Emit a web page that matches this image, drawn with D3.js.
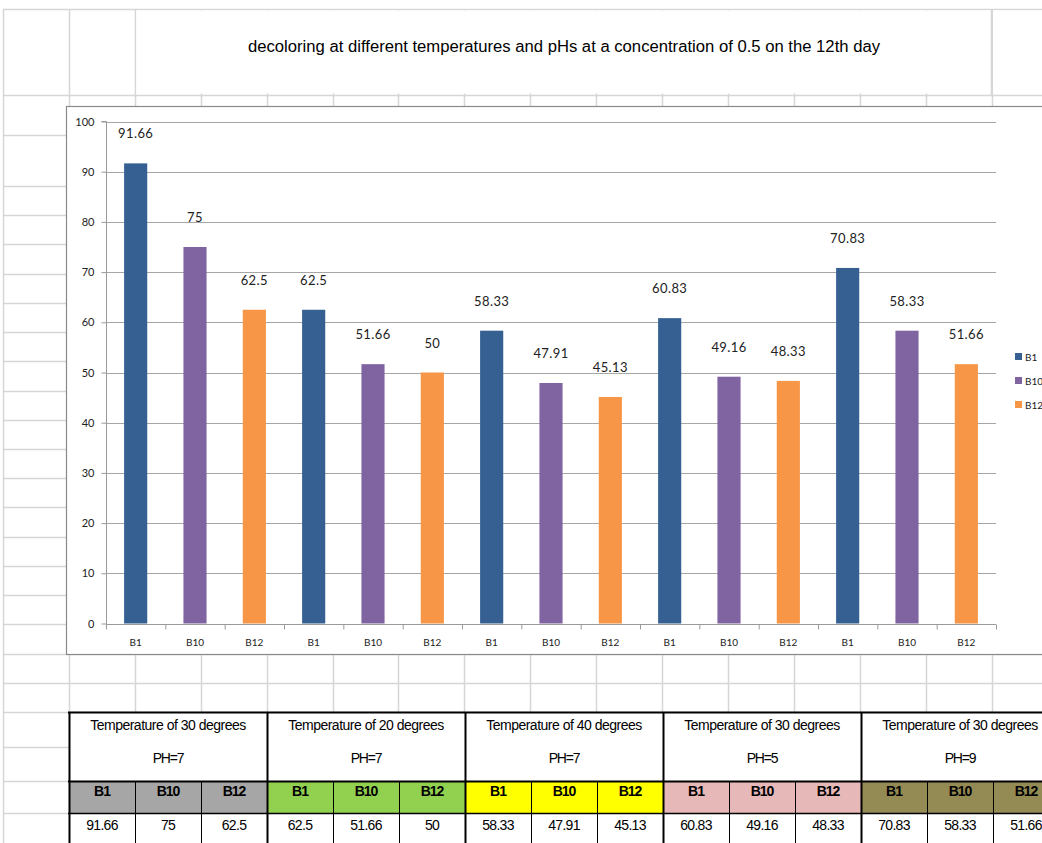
<!DOCTYPE html>
<html>
<head>
<meta charset="utf-8">
<script src="https://cdn.jsdelivr.net/npm/d3@7"></script>
<style>
  body { margin: 0; background: #fff; }
  svg { display: block; }
</style>
</head>
<body>
<svg id="chart" width="1042" height="843"></svg>
<script>
// ---------- data ----------
const title = "decoloring at different temperatures and pHs at a concentration of 0.5 on the 12th day";
const seriesNames = ["B1", "B10", "B12"];
const groupTemps = ["Temperature of 30 degrees", "Temperature of 20 degrees", "Temperature of 40 degrees", "Temperature of 30 degrees", "Temperature of 30 degrees"];
const groupPH = ["PH=7", "PH=7", "PH=7", "PH=5", "PH=9"];
const b1Values = [91.66, 62.5, 58.33, 60.83, 70.83];
const b10Values = [75, 51.66, 47.91, 49.16, 58.33];
const b12Values = [62.5, 50, 45.13, 48.33, 51.66];
const yTicks = [0, 10, 20, 30, 40, 50, 60, 70, 80, 90, 100];
const seriesColors = ["#376092", "#8064A2", "#F79646"];
const groupFills = ["#A6A6A6", "#92D050", "#FFFF00", "#E6B8B7", "#948A54"];

// flattened categories (group, series)
const seriesValues = [b1Values, b10Values, b12Values];
const cats = [];
groupTemps.forEach((g, gi) => {
  seriesNames.forEach((s, si) => {
    cats.push({ gi, si, name: s, value: seriesValues[si][gi] });
  });
});

const svg = d3.select("#chart");
const W = 1042, H = 843;
const gridColor = "#d6d6d6";

// ---------- spreadsheet grid ----------
const colW = 65.9, colX0 = 3;
const colXs = d3.range(0, 17).map(k => colX0 + colW * k);
const rowYs = [9, 95, 135].concat(d3.range(0, 19).map(k => 186 + k * (712 - 186) / 18));
const grid = svg.append("g");
grid.selectAll("line.v").data(colXs).join("line")
  .attr("x1", d => Math.round(d) + 0.5).attr("x2", d => Math.round(d) + 0.5)
  .attr("y1", 9).attr("y2", H)
  .attr("stroke", gridColor).attr("stroke-width", 1.5);
grid.selectAll("line.h").data(rowYs.concat([747, 781, 813])).join("line")
  .attr("x1", colX0).attr("x2", W)
  .attr("y1", d => Math.round(d) + 0.5).attr("y2", d => Math.round(d) + 0.5)
  .attr("stroke", gridColor).attr("stroke-width", 1.5);
// merged title cell
grid.append("rect").attr("x", 136.5).attr("y", 10.5).attr("width", 991 - 137).attr("height", 83).attr("fill", "#fff");
grid.append("rect").attr("x", 993).attr("y", 10.5).attr("width", 60).attr("height", 83).attr("fill", "#fff");
grid.append("line").attr("x1", 991.5).attr("x2", 991.5).attr("y1", 9).attr("y2", 95).attr("stroke", gridColor).attr("stroke-width", 1.5);

svg.append("text")
  .attr("x", 564).attr("y", 52)
  .attr("text-anchor", "middle")
  .attr("font-family", "'Liberation Sans', Arial, sans-serif")
  .attr("font-size", 16)
  .attr("textLength", 632).attr("lengthAdjust", "spacingAndGlyphs")
  .attr("fill", "#000")
  .text(title);

// ---------- chart box ----------
svg.append("rect")
  .attr("x", 66.5).attr("y", 106.5)
  .attr("width", 1100).attr("height", 548)
  .attr("fill", "#fff").attr("stroke", "#8a8a8a").attr("stroke-width", 1.2);

const plot = { left: 106, right: 996, top: 121.5, bottom: 623.5 };
const chartFont = "Lato, 'Open Sans', sans-serif";

const y = d3.scaleLinear().domain([0, 100]).range([plot.bottom, plot.top]);
const x = d3.scaleBand().domain(d3.range(cats.length))
  .range([plot.left, plot.right]).paddingInner(0.61).paddingOuter(0.305);
const xb = d3.scaleLinear().domain([0, cats.length]).range([plot.left, plot.right]);

// gridlines
svg.append("g").selectAll("line").data(yTicks.filter(t => t > 0)).join("line")
  .attr("x1", plot.left).attr("x2", plot.right)
  .attr("y1", d => Math.round(y(d)) + 0.5).attr("y2", d => Math.round(y(d)) + 0.5)
  .attr("stroke", "#a6a6a6").attr("stroke-width", 1);

// y axis
const yAxis = svg.append("g").attr("transform", `translate(${plot.left + 0.5},0)`)
  .call(d3.axisLeft(y).tickValues(yTicks).tickSize(5).tickPadding(7));
yAxis.select(".domain").attr("stroke", "#9a9a9a").attr("d", `M-5,${plot.top}H0V${plot.bottom + 3}`);
yAxis.selectAll(".tick line").attr("stroke", "#9a9a9a");
yAxis.selectAll(".tick text").attr("font-family", chartFont).attr("font-size", 11).attr("fill", "#222");

// bars
svg.append("g").selectAll("rect").data(cats).join("rect")
  .attr("x", (d, i) => x(i))
  .attr("width", x.bandwidth())
  .attr("y", d => y(d.value))
  .attr("height", d => y(0) - y(d.value))
  .attr("fill", d => seriesColors[d.si]);

// x axis
const xAxis = svg.append("g").attr("transform", `translate(0,${Math.round(plot.bottom) + 0.5})`)
  .call(d3.axisBottom(xb).tickValues(d3.range(cats.length + 1)).tickSize(5).tickFormat(""));
xAxis.select(".domain").attr("stroke", "#9a9a9a").attr("d", `M${plot.left},0H${plot.right}`);
xAxis.selectAll(".tick line").attr("stroke", "#9a9a9a");

svg.append("g").selectAll("text").data(cats).join("text")
  .attr("x", (d, i) => x(i) + x.bandwidth() / 2)
  .attr("y", 646)
  .attr("text-anchor", "middle")
  .attr("font-family", chartFont).attr("font-size", 10).attr("fill", "#222")
  .text(d => d.name);

// data labels
svg.append("g").selectAll("text").data(cats).join("text")
  .attr("x", (d, i) => x(i) + x.bandwidth() / 2)
  .attr("y", d => y(d.value) - 25)
  .attr("text-anchor", "middle")
  .attr("font-family", chartFont).attr("font-size", 13).attr("fill", "#222")
  .attr("letter-spacing", 0.4)
  .text(d => d.value);

// legend
const legend = svg.append("g");
seriesNames.forEach((s, i) => {
  const ly = 357 + i * 24;
  legend.append("rect").attr("x", 1015).attr("y", ly - 4).attr("width", 7).attr("height", 7).attr("fill", seriesColors[i]);
  legend.append("text").attr("x", 1025).attr("y", ly + 3.5)
    .attr("font-family", chartFont).attr("font-size", 10).attr("fill", "#222").text(s);
});

// ---------- table ----------
const tFont = "'Liberation Sans', Arial, sans-serif";
const tx0 = 69, tcw = 66;
const tTop = 712, tHead = 781, tSub = 813, tBot = 843;
const table = svg.append("g");
table.append("rect").attr("x", tx0).attr("y", tTop).attr("width", W - tx0 + 40).attr("height", H - tTop + 10).attr("fill", "#fff");
// colored header cells
cats.forEach((d, i) => {
  table.append("rect").attr("x", tx0 + i * tcw).attr("y", tHead).attr("width", tcw).attr("height", tSub - tHead)
    .attr("fill", groupFills[d.gi]);
});
// group header texts
groupTemps.forEach((g, gi) => {
  const cx = tx0 + gi * 3 * tcw + 1.5 * tcw;
  table.append("text").attr("x", cx).attr("y", 730).attr("text-anchor", "middle")
    .attr("font-family", tFont).attr("font-size", 14).attr("letter-spacing", -0.5).attr("fill", "#000").text(g);
  table.append("text").attr("x", cx).attr("y", 763).attr("text-anchor", "middle")
    .attr("font-family", tFont).attr("font-size", 14).attr("letter-spacing", -1.2).attr("fill", "#000").text(groupPH[gi]);
});
cats.forEach((d, i) => {
  const cx = tx0 + i * tcw + tcw / 2;
  table.append("text").attr("x", cx).attr("y", 796).attr("text-anchor", "middle")
    .attr("font-family", tFont).attr("font-size", 14).attr("font-weight", "bold").attr("letter-spacing", -1)
    .attr("fill", "#000").text(d.name);
  table.append("text").attr("x", cx).attr("y", 830).attr("text-anchor", "middle")
    .attr("font-family", tFont).attr("font-size", 14).attr("letter-spacing", -0.7)
    .attr("fill", "#000").text(d.value);
});
// borders
[tTop, tHead, tSub].forEach((yy, k) => {
  table.append("line").attr("x1", tx0 - 1).attr("x2", W).attr("y1", yy + 0.5).attr("y2", yy + 0.5)
    .attr("stroke", "#000").attr("stroke-width", k === 2 ? 1.5 : 2);
});
d3.range(0, cats.length + 1).forEach(i => {
  const xx = tx0 + i * tcw;
  const major = i % 3 === 0;
  table.append("line").attr("x1", xx + 0.5).attr("x2", xx + 0.5)
    .attr("y1", major ? tTop : tHead).attr("y2", H)
    .attr("stroke", "#000").attr("stroke-width", major ? 2 : 1);
});
</script>
</body>
</html>
